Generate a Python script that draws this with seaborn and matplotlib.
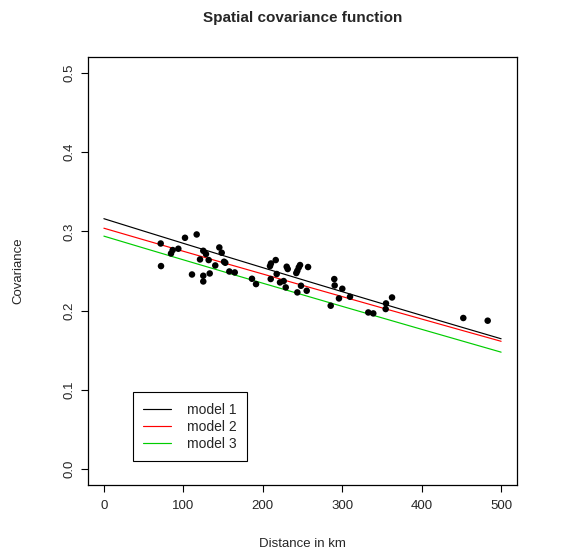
import numpy as np
import pandas as pd
import matplotlib
matplotlib.use("Agg")
import matplotlib.pyplot as plt
import seaborn as sns

# empirical covariances (distance in km, covariance)
dist_km = [71.5, 71.9, 84.5, 86.6, 93.7, 102.1, 116.8, 110.9, 121.0, 125.1,
           128.5, 131.9, 125.1, 125.1, 133.2, 140.2, 145.3, 148.3, 151.2, 152.8,
           157.9, 164.7, 186.4, 191.5, 209.1, 210.3, 216.3, 210.0, 217.5, 221.7,
           226.3, 228.9, 230.1, 231.4, 242.2, 243.5, 245.3, 246.9, 243.5, 248.1,
           255.3, 257.0, 290.0, 290.5, 300.1, 295.9, 285.5, 309.8,
           332.8, 339.1, 354.7, 355.1, 362.7, 452.4, 483.1]
emp_cov = [0.2847, 0.2562, 0.2721, 0.2764, 0.2781, 0.2919, 0.2961, 0.2456, 0.2646, 0.2755,
           0.2714, 0.2638, 0.2440, 0.2368, 0.2469, 0.2570, 0.2797, 0.2730, 0.2617, 0.2604,
           0.2494, 0.2482, 0.2402, 0.2335, 0.2562, 0.2595, 0.2638, 0.2399, 0.2462, 0.2356,
           0.2373, 0.2293, 0.2554, 0.2525, 0.2474, 0.2503, 0.2545, 0.2575, 0.2230, 0.2314,
           0.2251, 0.2550, 0.2398, 0.2318, 0.2276, 0.2154, 0.2062, 0.2175,
           0.1977, 0.1965, 0.2020, 0.2091, 0.2166, 0.1907, 0.1873]

# fitted model curves, read every 50 km
curve_km = [0, 50, 100, 150, 200, 250, 300, 350, 400, 450, 500]
model1 = [0.3160, 0.3004, 0.2849, 0.2695, 0.2542, 0.2390, 0.2239, 0.2089, 0.1940, 0.1792, 0.1645]
model2 = [0.3040, 0.2894, 0.2749, 0.2605, 0.2462, 0.2319, 0.2177, 0.2035, 0.1894, 0.1753, 0.1613]
model3 = [0.2940, 0.2790, 0.2641, 0.2493, 0.2346, 0.2200, 0.2054, 0.1909, 0.1764, 0.1620, 0.1476]
model_names = ["model 1", "model 2", "model 3"]
model_colors = ["black", "#FF0000", "#00CD00"]

x_ticks = [0, 100, 200, 300, 400, 500]
y_ticks = [0.0, 0.1, 0.2, 0.3, 0.4, 0.5]

sns.set_style("white")
plt.rcParams["font.family"] = ["Liberation Sans", "DejaVu Sans"]

pts = pd.DataFrame({"dist": dist_km, "cov": emp_cov})
curves = pd.DataFrame({
    "dist": curve_km * 3,
    "cov": model1 + model2 + model3,
    "model": [m for m in model_names for _ in curve_km],
})

W, H = 567, 556
fig = plt.figure(figsize=(W / 100, H / 100), dpi=100)
left, right, top, bottom = 88, 517, 57, 485
ax = fig.add_axes([left / W, (H - bottom) / H, (right - left) / W, (bottom - top) / H])

sns.lineplot(data=curves, x="dist", y="cov", hue="model",
             palette=dict(zip(model_names, model_colors)), linewidth=0.85, ax=ax)
sns.scatterplot(data=pts, x="dist", y="cov", color="black", s=22,
                edgecolor="none", ax=ax, zorder=3)

ax.set_xlim(-20, 520)
ax.set_ylim(-0.02, 0.52)
ax.set_xticks(x_ticks)
ax.set_xticklabels([str(t) for t in x_ticks])
ax.set_yticks(y_ticks)
ax.set_yticklabels([f"{t:.1f}" for t in y_ticks], rotation=90, va="center")
ax.tick_params(axis="both", direction="out", length=5, width=0.8,
               color="black", labelsize=9.5, bottom=True, left=True)
ax.tick_params(axis="x", pad=6)
ax.tick_params(axis="y", pad=4)
for sp in ax.spines.values():
    sp.set_color("black")
    sp.set_linewidth(0.9)
ax.set_xlabel("")
ax.set_ylabel("")

handles, labels = ax.get_legend_handles_labels()
leg = ax.legend(handles[:3], labels[:3], loc="lower left",
                bbox_to_anchor=(0.105, 0.056), frameon=True, fancybox=False,
                edgecolor="black", framealpha=1, fontsize=10,
                handlelength=2.0, handletextpad=1.1, labelspacing=0.22,
                borderpad=0.75, borderaxespad=0)
leg.get_frame().set_linewidth(0.8)

cx = (left + right) / 2 / W
fig.text(cx, 1 - 18 / H, "Spatial covariance function", ha="center", va="center",
         fontsize=11, fontweight="bold")
fig.text(cx, 1 - 544 / H, "Distance in km", ha="center", va="center", fontsize=9.5)
fig.text(18 / W, 1 - (top + bottom) / 2 / H, "Covariance", ha="center", va="center",
         rotation=90, fontsize=9.5)

fig.savefig("out.png", dpi=100, facecolor="white")
